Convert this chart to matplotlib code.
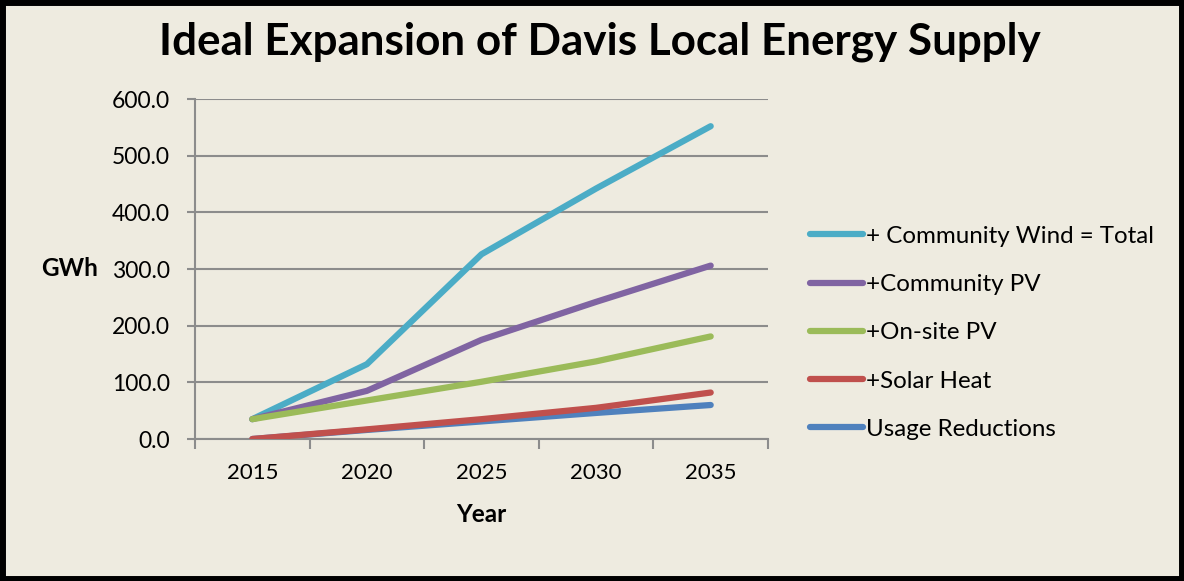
import numpy as np
import matplotlib
matplotlib.use('Agg')
import matplotlib.pyplot as plt
from matplotlib.patches import Rectangle

plt.rcParams['font.family'] = ['Lato', 'DejaVu Sans']

years = ['2015', '2020', '2025', '2030', '2035']
series_names = ['+ Community Wind = Total', '+Community PV', '+On-site PV',
                '+Solar Heat', 'Usage Reductions']
wind_total = [35, 132, 326, 442, 552]
community_pv = [35, 85, 175, 242, 306]
onsite_pv = [35, 68, 101, 137, 181]
solar_heat = [0, 17, 35, 55, 82]
usage_red = [0, 16, 31, 46, 60]
colors = ['#4BACC6', '#8064A2', '#9BBB59', '#C0504D', '#4F81BD']
BG = '#EEEBE0'

fig = plt.figure(figsize=(11.84, 5.81), dpi=100, facecolor=BG)
ax = fig.add_axes([195/1184, 1-439/581, (768-195)/1184, 340/581])
ax.set_facecolor(BG)

x = np.arange(len(years))
data = [wind_total, community_pv, onsite_pv, solar_heat, usage_red]
lines = []
for vals, c, name in zip(data, colors, series_names):
    ln, = ax.plot(x, vals, color=c, lw=4.5, solid_capstyle='round', label=name)
    lines.append(ln)
lines[3].set_zorder(3)
lines[4].set_zorder(2.5)

ax.set_xlim(-0.5, 4.5)
ax.set_ylim(0, 600)
ax.set_yticks(np.arange(0, 601, 100))
ax.set_yticklabels([f'{v:.1f}' for v in np.arange(0, 601, 100)], fontsize=16.5)
ax.set_xticks(x)
ax.set_xticklabels(years, fontsize=16)
ax.set_xticks(np.arange(-0.5, 4.6, 1), minor=True)
ax.tick_params(axis='x', which='major', length=0, pad=17)
ax.tick_params(axis='x', which='minor', length=7, color='#8C8C8C', width=1.5)
ax.tick_params(axis='y', length=6, color='#8C8C8C', width=1.5, pad=12)
ax.grid(axis='y', color='#8C8C8C', lw=1.5)
for s in ['top', 'right']:
    ax.spines[s].set_visible(False)
for s in ['left', 'bottom']:
    ax.spines[s].set_color('#8C8C8C')
    ax.spines[s].set_linewidth(1.5)

fig.text(481/1184, 1-514/581, 'Year', ha='center', va='center',
         fontsize=17.5, fontweight='bold')
fig.text(70/1184, 1-269/581, 'GWh', ha='center', va='center',
         fontsize=17.5, fontweight='bold')

fig.text(600/1184, 1-42/581, 'Ideal Expansion of Davis Local Energy Supply',
         ha='center', va='center', fontsize=31.7, fontweight='bold')

leg = fig.legend(handles=lines, labels=series_names, loc='upper left',
                 bbox_to_anchor=(800/1184, 1-216/581), frameon=False,
                 fontsize=17.4, handlelength=2.2, handletextpad=0.12,
                 labelspacing=1.13, borderaxespad=0)

fig.patches.append(Rectangle((0.002, 0.003), 0.996, 0.994, transform=fig.transFigure,
                             fill=False, edgecolor='black', lw=5))

fig.savefig('out.png', dpi=100, facecolor=BG)
